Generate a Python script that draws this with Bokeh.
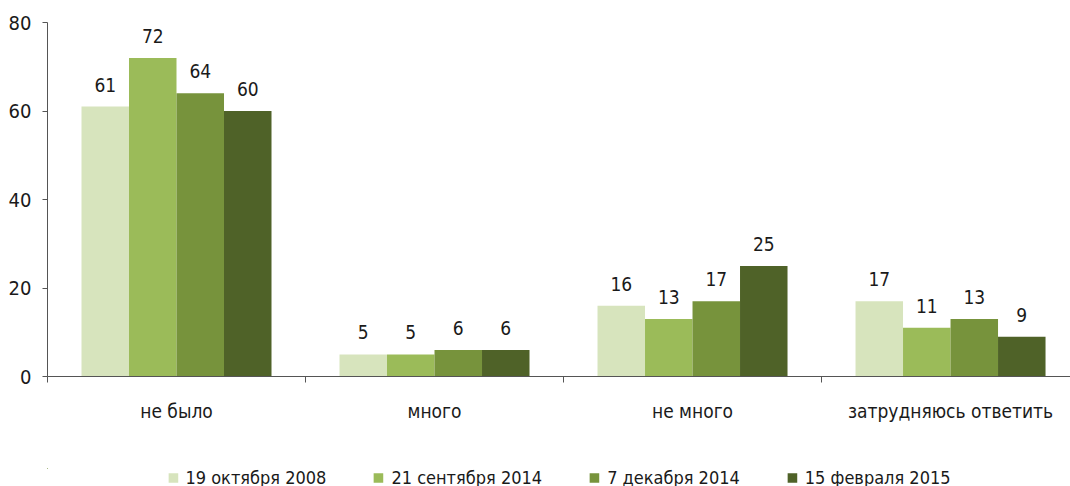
from bokeh.plotting import figure
from bokeh.layouts import column
from bokeh.models import (ColumnDataSource, Range1d, LinearAxis, FixedTicker,
                          Legend, LegendItem)
from bokeh.core.properties import value
from bokeh.embed import file_html
from bokeh.resources import INLINE

categories = ["не было", "много", "не много", "затрудняюсь ответить"]
series_names = ["19 октября 2008", "21 сентября 2014", "7 декабря 2014", "15 февраля 2015"]
s2008_10 = [61, 5, 16, 17]
s2014_09 = [72, 5, 13, 11]
s2014_12 = [64, 6, 17, 13]
s2015_02 = [60, 6, 25, 9]
colors = ["#D7E4BD", "#9BBB59", "#77933C", "#4F6228"]
y_ticks = [0, 20, 40, 60, 80]

FONT = "DejaVu Sans Condensed, DejaVu Sans, sans-serif"
TXT = "#1a1a1a"

p = figure(width=1070, height=468, output_backend="svg", toolbar_location=None,
           x_range=Range1d(0, 3.965), y_range=Range1d(0, 80),
           x_axis_location=None, y_axis_location=None)
p.min_border_left = 47
p.min_border_top = 22
p.min_border_right = 0
p.min_border_bottom = 92
p.outline_line_color = None
p.xgrid.visible = False
p.ygrid.visible = False

yaxis = LinearAxis(ticker=FixedTicker(ticks=y_ticks))
yaxis.axis_line_color = "#555555"
yaxis.major_tick_line_color = "#555555"
yaxis.major_tick_out = 5
yaxis.major_tick_in = 0
yaxis.minor_tick_line_color = None
yaxis.major_label_text_font = FONT
yaxis.major_label_text_font_size = "20px"
yaxis.major_label_text_color = TXT
yaxis.major_label_standoff = 11
p.add_layout(yaxis, "left")

xaxis = LinearAxis(ticker=FixedTicker(ticks=list(range(len(categories) + 1))))
xaxis.axis_line_color = "#555555"
xaxis.major_tick_line_color = "#555555"
xaxis.major_tick_out = 6
xaxis.major_tick_in = 0
xaxis.minor_tick_line_color = None
xaxis.major_label_text_alpha = 0
xaxis.major_label_text_font_size = "1px"
xaxis.major_label_standoff = 0
p.add_layout(xaxis, "below")

centers = [i + 0.5 for i in range(len(categories))]
xlab = LinearAxis(ticker=FixedTicker(ticks=centers))
xlab.major_label_overrides = {c: cat for c, cat in zip(centers, categories)}
xlab.axis_line_color = None
xlab.major_tick_line_color = None
xlab.minor_tick_line_color = None
xlab.major_label_text_font = FONT
xlab.major_label_text_font_size = "19px"
xlab.major_label_text_color = TXT
xlab.major_label_standoff = 11
p.add_layout(xlab, "below")

series = [s2008_10, s2014_09, s2014_12, s2015_02]
bw = 47.5 / 258

# separate strip for the legend (its bars lie outside its visible range)
lf = figure(width=1070, height=18, output_backend="svg", toolbar_location=None,
            x_range=Range1d(100, 101), y_range=Range1d(-2, -1),
            x_axis_location=None, y_axis_location=None)
lf.min_border_left = 0
lf.min_border_right = 0
lf.min_border_top = 0
lf.min_border_bottom = 0
lf.outline_line_color = None
lf.xgrid.visible = False
lf.ygrid.visible = False

items = []
for k, (vals, col, name) in enumerate(zip(series, colors, series_names)):
    xs = [c + (k - 1.5) * bw for c in centers]
    src = ColumnDataSource(dict(x=xs, top=vals, lab=[str(v) for v in vals]))
    p.vbar(x="x", top="top", bottom=0, width=bw, source=src,
           fill_color=col, line_color=None)
    p.text(x="x", y="top", text="lab", source=src, text_align="center",
           text_baseline="alphabetic", y_offset=-22,
           text_font=value(FONT), text_font_size="19px", text_color=TXT)
    lr = lf.vbar(x="x", top="top", bottom=0, width=bw, source=src,
                 fill_color=col, line_color=None)
    items.append(LegendItem(label=name, renderers=[lr]))

legend = Legend(items=items, orientation="horizontal", location="center",
                border_line_color=None, background_fill_alpha=0,
                label_text_font=FONT, label_text_font_size="18px",
                label_text_color=TXT, glyph_width=12, glyph_height=12,
                spacing=46, label_standoff=7, margin=0, padding=0)
lf.add_layout(legend, "center")

layout = column(p, lf, spacing=0)
open("out.html", "w").write(file_html(layout, INLINE))
